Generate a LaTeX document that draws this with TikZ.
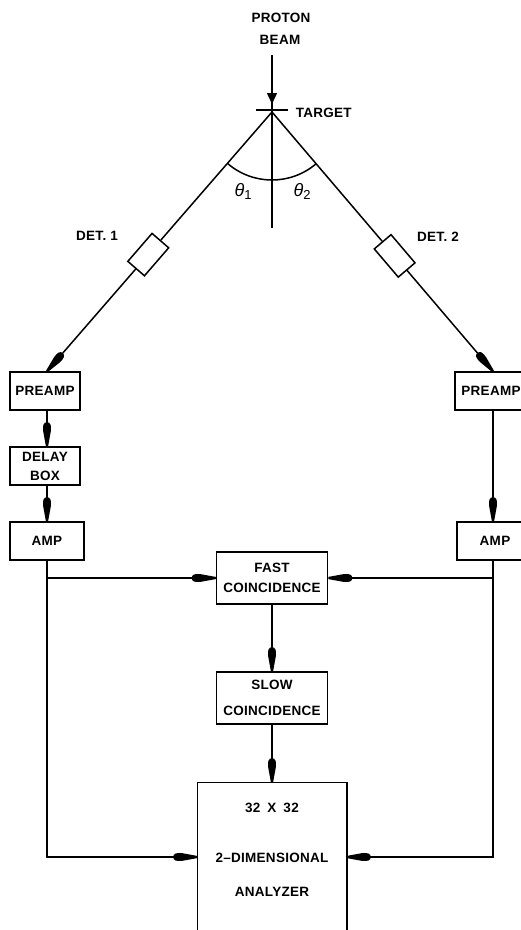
\documentclass[tikz,border=0pt]{standalone}
\usepackage{fontspec}
\setmainfont{Liberation Sans}
\newfontfamily\lettering[LetterSpace=2]{Liberation Sans}
\usetikzlibrary{arrows.meta,calc}
\pgfdeclarearrow{
  name = Blob,
  parameters = {\the\pgfarrowlength},
  setup code = {
    \pgfarrowssettipend{0pt}
    \pgfarrowssetbackend{-\pgfarrowlength}
    \pgfarrowssetlineend{-0.5\pgfarrowlength}
    \pgfarrowssavethe\pgfarrowlength
  },
  drawing code = {
    \pgfpathmoveto{\pgfpoint{0pt}{1.1pt}}
    \pgfpathlineto{\pgfpoint{-0.62\pgfarrowlength}{3.8pt}}
    \pgfpathcurveto{\pgfpoint{-0.9\pgfarrowlength}{4.6pt}}{\pgfpoint{-1\pgfarrowlength}{3.2pt}}{\pgfpoint{-1\pgfarrowlength}{0pt}}
    \pgfpathcurveto{\pgfpoint{-1\pgfarrowlength}{-3.2pt}}{\pgfpoint{-0.9\pgfarrowlength}{-4.6pt}}{\pgfpoint{-0.62\pgfarrowlength}{-3.8pt}}
    \pgfpathlineto{\pgfpoint{0pt}{-1.1pt}}
    \pgfpathclose
    \pgfusepathqfill
  },
  defaults = {length = 24pt}
}
\begin{document}
\begin{tikzpicture}[x=1pt,y=-1pt,line width=1.5pt,
  conn/.style={-{Blob[length=24pt]}},
  txt/.style={inner sep=0pt,font=\lettering\bfseries\fontsize{13.5}{19}\selectfont,align=center},
  box/.style={draw,fill=white,inner sep=0pt,txt},
  det/.style={draw,fill=white,inner sep=0pt,minimum width=37pt,minimum height=22pt},
  ang/.style={inner sep=0pt,font=\fontsize{18}{18}\selectfont\itshape}]
\useasboundingbox (0,0) rectangle (521,930);
% columns
\coordinate (colL) at (47,0);
\coordinate (colR) at (493,0);
% boxes
\node[box,minimum width=70pt,minimum height=38pt] (preL) at (45,391) {PREAMP};
\node[box,minimum width=70pt,minimum height=38pt] (delay) at (45,466) {DELAY\\BOX};
\node[box,minimum width=74pt,minimum height=38pt] (ampL) at (47,541) {AMP};
\node[box,minimum width=72pt,minimum height=38pt] (preR) at (491,391) {PREAMP};
\node[box,minimum width=76pt,minimum height=38pt] (ampR) at (495,541) {AMP};
\node[box,minimum width=111pt,minimum height=52pt,font=\lettering\bfseries\fontsize{13.5}{20}\selectfont] (fast) at (272,578) {FAST\\COINCIDENCE};
\node[box,minimum width=111pt,minimum height=52pt,font=\lettering\bfseries\fontsize{13.5}{26}\selectfont] (slow) at (272,698) {SLOW\\COINCIDENCE};
\node[minimum width=148pt,minimum height=148pt,inner sep=0pt] (ana) at (272,857) {};
\draw (ana.south west) -- (ana.north west) -- (ana.north east) -- (ana.south east);
\node[txt] (ana1) at (272,808) {32\hspace{7pt}X\hspace{7pt}32};
\node[txt] (ana2) at (272,858) {2–DIMENSIONAL};
\node[txt] (ana3) at (272,892) {ANALYZER};
% beam and target
\node[txt] (proton) at (281,18) {PROTON};
\node[txt] (beam) at (280,40) {BEAM};
\coordinate (beamtop) at (272,55);
\coordinate (beamtip) at (272,104);
\coordinate (tgt) at (272,112);
\coordinate (normal) at (272,228);
\draw (beamtop) -- (normal);
\draw[-{Triangle[length=11pt,width=10pt]}] (beamtop) -- (beamtip);
\coordinate (barL) at (256,110);
\coordinate (barR) at (288,110);
\draw (barL) -- (barR);
\node[txt,anchor=west] (target) at (295,113) {TARGET};
% detectors
\coordinate (inL) at (preL.north -| colL);
\coordinate (inR) at (preR.north -| colR);
\node[det,rotate=49.1] (det1) at ($(tgt)!0.55!(inL)$) {};
\node[det,rotate=-49.6] (det2) at ($(tgt)!0.555!(inR)$) {};
\node[txt] (det1l) at (97,236) {DET. 1};
\node[txt] (det2l) at (438,237) {DET. 2};
\draw (tgt) -- (det1);
\draw (tgt) -- (det2);
\draw[conn] (det1) -- (inL);
\draw[conn] (det2) -- (inR);
% angle
\draw ($(tgt)+(130.9:68)$) arc[start angle=130.9,end angle=49.6,radius=68];
\node[ang] (th1) at (243,191) {θ\raisebox{-3pt}{\fontsize{13}{13}\selectfont\upshape 1}};
\node[ang] (th2) at (302,191) {θ\raisebox{-3pt}{\fontsize{13}{13}\selectfont\upshape 2}};
% signal chain
\draw[conn] (preL.south -| colL) -- (delay.north -| colL);
\draw[conn] (delay.south -| colL) -- (ampL.north -| colL);
\draw[conn] (preR.south -| colR) -- (ampR.north -| colR);
\draw[conn] (ampL.south -| colL) |- (ana.west);
\draw[conn] (ampR.south -| colR) |- (ana.east);
\draw[conn] (colL |- fast.west) -- (fast.west);
\draw[conn] (colR |- fast.east) -- (fast.east);
\draw[conn] (fast) -- (slow);
\draw[conn] (slow) -- (ana.north);
\end{tikzpicture}
\end{document}
